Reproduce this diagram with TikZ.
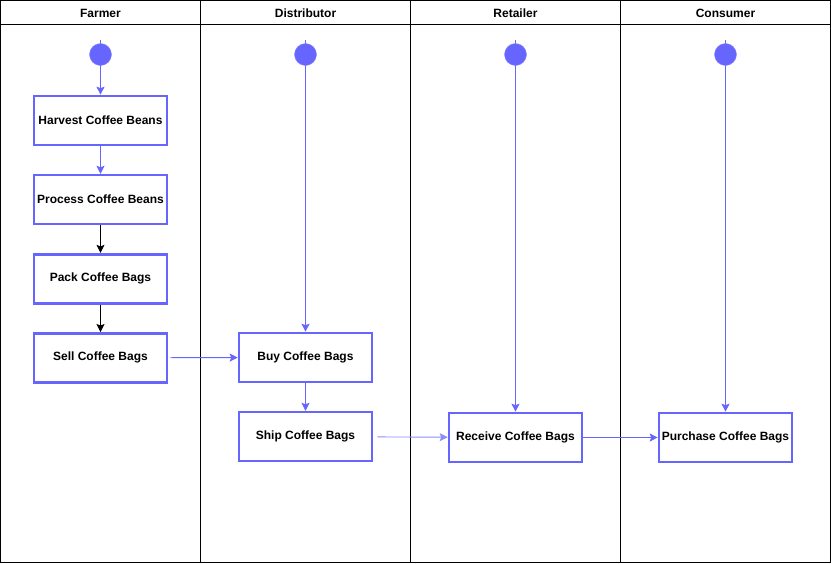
\documentclass[tikz,border=0pt]{standalone}
\usepackage{fontspec}
\setmainfont{Liberation Sans}
\usetikzlibrary{positioning, arrows.meta, backgrounds}
\definecolor{flowColor}{RGB}{102,102,255}
\definecolor{paleFlowColor}{RGB}{140,140,255}
\tikzstyle{swimlane} = [x = 1pt, y = -1pt, node distance = 27.5pt]
\tikzstyle{laneLine} = [color=black, line width=1pt]
\tikzstyle{laneTitle} = [font=\fontsize{12}{14}\selectfont\bfseries]
\tikzstyle{actionBox} = [draw=flowColor, line width=2.6pt, fill=white, minimum width=133pt, minimum height=49pt, inner sep=0pt, font=\fontsize{12}{14}\selectfont\bfseries]
\tikzstyle{startDot} = [circle, fill=flowColor, draw=flowColor!80!white, minimum size=22pt, inner sep=0pt]
\tikzstyle{flowArrow} = [color=flowColor, line width=0.9pt, -{Stealth[length=8pt, width=8pt, inset=1.5pt]}]
\tikzstyle{blackArrow} = [flowArrow, color=black]
\tikzstyle{paleArrow} = [flowArrow, color=paleFlowColor]
\tikzstyle{startArrow} = [flowArrow, shorten <= -15pt]
\newcommand{\laneDivider}[1]{\draw [laneLine] (#1, 0) -- (#1, 562);}
\newcommand{\laneHeader}[3]{\node [laneTitle] (#1) at (#2, 13) {#3};}

\begin{document}
\begin{tikzpicture}[swimlane]
        \useasboundingbox (-0.5, -0.5) rectangle (830.5, 562.5);
        \begin{scope}[on background layer]
          \fill [white] (-0.5, -0.5) rectangle (830.5, 562.5);
          \draw [laneLine] (0, 0) rectangle (830, 562);
          \draw [laneLine] (0, 24) -- (830, 24);
          \foreach \divider in {200, 410, 620} {
            \laneDivider{\divider}
          }
        \end{scope}

        % lane titles
        \laneHeader{farmerTitle}{100}{Farmer}
        \laneHeader{distributorTitle}{305}{Distributor}
        \laneHeader{retailerTitle}{515}{Retailer}
        \laneHeader{consumerTitle}{725}{Consumer}

        % start points
        \node [startDot] (farmerStart) at (100, 54) {};
        \node [startDot] (distributorStart) at (305, 54) {};
        \node [startDot] (retailerStart) at (515, 54) {};
        \node [startDot] (consumerStart) at (725, 54) {};

        % actions
        \node [actionBox] (harvest) at (100, 120) {Harvest Coffee Beans};
        \node [actionBox, below = of harvest] (process) {Process Coffee Beans};
        \node [actionBox, below = of process] (pack) {Pack Coffee Bags};
        \node [actionBox, below = of pack] (sell) {Sell Coffee Bags};
        \node [actionBox] (buy) at (305, 357) {Buy Coffee Bags};
        \node [actionBox, below = of buy] (ship) {Ship Coffee Bags};
        \node [actionBox] (receive) at (515, 437) {Receive Coffee Bags};
        \node [actionBox] (purchase) at (725, 437) {Purchase Coffee Bags};

        \begin{scope}[on background layer]
          \draw [startArrow] (farmerStart.center) -- (harvest);
          \draw [startArrow] (distributorStart.center) -- (buy);
          \draw [startArrow] (retailerStart.center) -- (receive);
          \draw [startArrow] (consumerStart.center) -- (purchase);
        \end{scope}
        \draw [flowArrow] (harvest) -- (process);
        \draw [blackArrow] (process) -- (pack);
        \draw [blackArrow] (pack) -- (sell);
        \draw [flowArrow, shorten <= 2pt] (sell) -- (buy);
        \draw [flowArrow] (buy) -- (ship);
        \draw [paleArrow, shorten <= 4pt] (ship) -- (receive);
        \draw [flowArrow] (receive) -- (purchase);
\end{tikzpicture}
\end{document}
